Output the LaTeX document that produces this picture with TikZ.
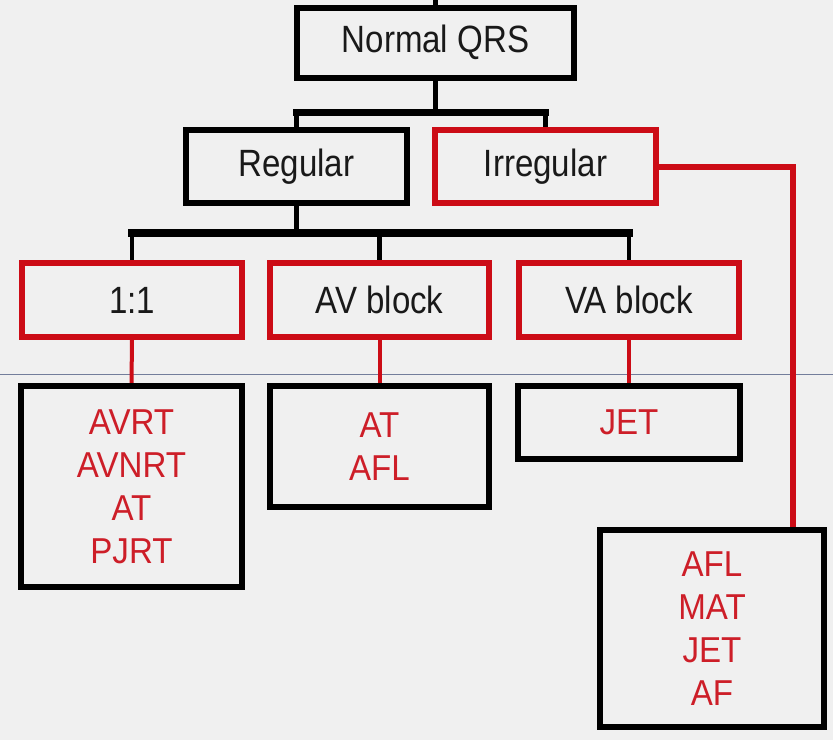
\documentclass[tikz,border=0pt]{standalone}
\usepackage{fontspec}
\setmainfont{Liberation Sans}
\newfontfamily\labelfont{Liberation Sans}[FakeStretch=0.87]
\newfontfamily\listfont{Liberation Sans}[FakeStretch=0.92]
\usetikzlibrary{backgrounds}

\definecolor{bggray}{RGB}{240,240,240}
\definecolor{ecgred}{RGB}{204,12,22}
\definecolor{txtred}{RGB}{205,30,40}
\definecolor{inkblack}{RGB}{25,25,25}
\definecolor{scanline}{RGB}{115,125,155}

\tikzset{
  blackbox/.style={draw=black, line width=6pt, fill=bggray, inner sep=0pt,
    text=inkblack, font=\labelfont\fontsize{38}{42}\selectfont},
  redbox/.style={blackbox, draw=ecgred},
  listbox/.style={draw=black, line width=6pt, fill=bggray, inner sep=0pt,
    align=center, text=txtred, font=\listfont\fontsize{36}{43}\selectfont},
  bar/.style={line width=7pt, line cap=rect},
  drop/.style={line width=5pt},
  redline/.style={draw=ecgred, line width=4pt},
}

\begin{document}
\begin{tikzpicture}[x=1pt, y=-1pt]
  \useasboundingbox (0,0) rectangle (833,740);

  % top level
  \node[blackbox, minimum width=277pt, minimum height=70pt] (nqrs) at (435.5,42.5) {Normal QRS};

  % rhythm
  \node[blackbox, minimum width=221pt, minimum height=73pt] (reg) at (296.5,166.5) {Regular};
  \node[redbox, minimum width=221pt, minimum height=73pt] (irr) at (545.5,166.5) {Irregular};

  % conduction
  \node[redbox, minimum width=220pt, minimum height=74pt] (one) at (132,300) {1:1};
  \node[redbox, minimum width=219pt, minimum height=74pt] (avb) at (379.5,300) {AV block};
  \node[redbox, minimum width=220pt, minimum height=74pt] (vab) at (629,300) {VA block};

  % diagnoses
  \node[listbox, minimum width=221pt, minimum height=201pt] (dxone) at (131.5,486.5) {AVRT\\AVNRT\\AT\\PJRT};
  \node[listbox, minimum width=219pt, minimum height=121pt] (dxavb) at (379.5,446.5) {AT\\AFL};
  \node[listbox, minimum width=222pt, minimum height=73pt] (dxvab) at (629,422.5) {JET};
  \node[listbox, minimum width=224pt, minimum height=197pt] (dxirr) at (712,628.5) {AFL\\MAT\\JET\\AF};

  \begin{scope}[on background layer]
    \fill[bggray] (0,0) rectangle (833,740);
    \draw[scanline, line width=1pt] (0,374) -- (833,374);

    % tree above Normal QRS
    \coordinate (feed) at (nqrs.north |- 0,0);
    \draw[drop] (feed) -- (nqrs.north);

    % Normal QRS -> Regular / Irregular
    \coordinate (ja) at (nqrs.south |- 0,112);
    \coordinate (jal) at (reg.north |- ja);
    \coordinate (jar) at (irr.north |- ja);
    \draw[drop] (nqrs.south) -- (ja);
    \draw[bar] (jal) -- (jar);
    \draw[drop] (jal) -- (reg.north);
    \draw[drop] (jar) -- (irr.north);

    % Regular -> 1:1 / AV block / VA block
    \coordinate (jb) at (reg.south |- 0,233);
    \coordinate (jbl) at (one.north |- jb);
    \coordinate (jbm) at (avb.north |- jb);
    \coordinate (jbr) at (vab.north |- jb);
    \draw[drop] (reg.south) -- (jb);
    \draw[bar, line width=8pt] (jbl) -- (jbr);
    \draw[line width=4pt] (jbl) -- (one.north);
    \draw[drop] (jbm) -- (avb.north);
    \draw[line width=4pt] (jbr) -- (vab.north);

    % red links to diagnoses
    \draw[redline] (one.south) -- (dxone.north);
    \draw[redline] (avb.south) -- (dxavb.north);
    \draw[redline] (vab.south) -- (dxvab.north);
    \draw[redline, line width=6pt] (irr.east) -| ([xshift=81pt]dxirr.north);
  \end{scope}
\end{tikzpicture}
\end{document}
